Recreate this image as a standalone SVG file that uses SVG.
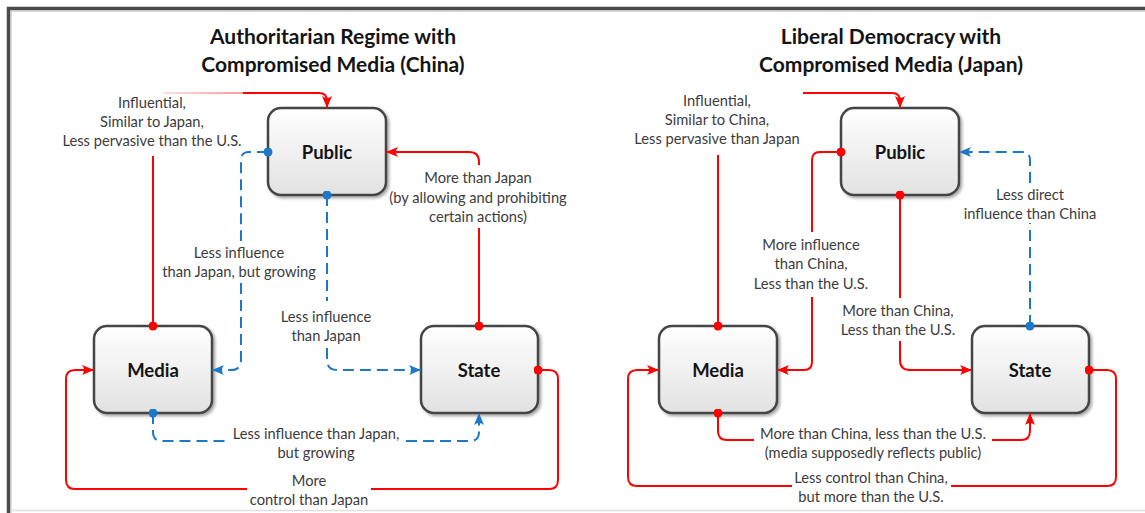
<svg xmlns="http://www.w3.org/2000/svg" width="1145" height="513" viewBox="0 0 1145 513">
<style>
.title{font-family:Lato,"Open Sans","Liberation Sans",sans-serif;font-weight:bold;font-size:21px;fill:#141414;text-anchor:middle}
.lbl{font-family:Lato,"Open Sans","Liberation Sans",sans-serif;font-size:14.7px;fill:#3c3c3c;text-anchor:middle;dominant-baseline:central}
.nlbl{font-family:Lato,"Open Sans","Liberation Sans",sans-serif;font-weight:bold;font-size:18.5px;fill:#141414;text-anchor:middle;dominant-baseline:central}
.box{fill:url(#gBox);stroke:#454545;stroke-width:2.5;filter:url(#shadow)}
.r{fill:none;stroke:#ff0000;stroke-width:2}
.b{fill:none;stroke:#1e78c8;stroke-width:2;stroke-dasharray:11 6}
.ra{marker-end:url(#arrR)}
.ba{marker-end:url(#arrB)}
.rd{marker-start:url(#dotR)}
.bd{marker-start:url(#dotB)}
</style>
<defs>
<linearGradient id="gBox" x1="0" y1="0" x2="0" y2="1">
<stop offset="0" stop-color="#ffffff"/>
<stop offset="1" stop-color="#e2e2e2"/>
</linearGradient>
<linearGradient id="gFade" gradientUnits="userSpaceOnUse" x1="163" y1="0" x2="243" y2="0">
<stop offset="0" stop-color="#ff0000" stop-opacity="0.12"/>
<stop offset="1" stop-color="#ff0000" stop-opacity="0.4"/>
</linearGradient>
<filter id="shadow" x="-10%" y="-10%" width="130%" height="130%">
<feDropShadow dx="2" dy="2" stdDeviation="1.5" flood-color="#000" flood-opacity="0.35"/>
</filter>
<marker id="arrR" viewBox="0 0 12 10" refX="12" refY="5" markerWidth="12" markerHeight="10" markerUnits="userSpaceOnUse" orient="auto">
<path d="M0,0 L12,5 L0,10 Q4,5 0,0 Z" fill="#ff0000"/>
</marker>
<marker id="arrB" viewBox="0 0 12 10" refX="12" refY="5" markerWidth="12" markerHeight="10" markerUnits="userSpaceOnUse" orient="auto">
<path d="M0,0 L12,5 L0,10 Q4,5 0,0 Z" fill="#1e78c8"/>
</marker>
<marker id="dotR" viewBox="0 0 10 10" refX="5" refY="5" markerWidth="9" markerHeight="9" markerUnits="userSpaceOnUse">
<circle cx="5" cy="5" r="5" fill="#ff0000"/>
</marker>
<marker id="dotB" viewBox="0 0 10 10" refX="5" refY="5" markerWidth="9" markerHeight="9" markerUnits="userSpaceOnUse">
<circle cx="5" cy="5" r="5" fill="#1e78c8"/>
</marker>
</defs>
<rect x="0" y="0" width="1145" height="513" fill="#ffffff"/>
<g id="frame">
<path d="M1145,8.5 H8.5 V513" fill="none" stroke="#4a4a4a" stroke-width="3.5"/>
<path d="M1145,11 H11 V513" fill="none" stroke="#b8b8b8" stroke-width="1"/>
<line x1="11" y1="510.5" x2="1145" y2="510.5" stroke="#e0e0e0" stroke-width="1.5"/>
</g>
<g id="titles">
<text class="title" x="333" y="44">Authoritarian Regime with</text>
<text class="title" x="333" y="72">Compromised Media (China)</text>
<text class="title" x="891" y="44">Liberal Democracy with</text>
<text class="title" x="891" y="72">Compromised Media (Japan)</text>
</g>
<g id="china-public">
<rect class="box" x="268" y="108" width="118" height="87" rx="13"/>
<text class="nlbl" x="327" y="152">Public</text>
</g>
<g id="china-media">
<rect class="box" x="94" y="326" width="118" height="87" rx="13"/>
<text class="nlbl" x="153" y="370">Media</text>
</g>
<g id="china-state">
<rect class="box" x="421" y="326" width="117" height="87" rx="13"/>
<text class="nlbl" x="479" y="370">State</text>
</g>
<g id="japan-public">
<rect class="box" x="841" y="108" width="118" height="87" rx="13"/>
<text class="nlbl" x="900" y="152">Public</text>
</g>
<g id="japan-media">
<rect class="box" x="659" y="326" width="118" height="87" rx="13"/>
<text class="nlbl" x="718" y="370">Media</text>
</g>
<g id="japan-state">
<rect class="box" x="972" y="326" width="117" height="87" rx="13"/>
<text class="nlbl" x="1030" y="370">State</text>
</g>
<g id="connectors">
<!-- Left: Media -> Public (red) -->
<path class="r rd" d="M153,326 V156"/>
<path d="M163,93 H243" fill="none" stroke="url(#gFade)" stroke-width="2"/>
<path class="r ra" d="M243,93 H319 Q327,93 327,101 V108"/>
<!-- Left: Public -> Media (blue) -->
<path class="b bd" d="M268,152 H249 Q241,152 241,160 V241"/>
<path class="b ba" d="M241,283 V360 Q241,370 231,370 H212"/>
<!-- Left: Public -> State (blue) -->
<path class="b bd" d="M327,195 V301"/>
<path class="b ba" d="M327,348 V360 Q327,370 337,370 H421"/>
<!-- Left: State -> Public (red) -->
<path class="r rd" d="M479,326 V228"/>
<path class="r ra" d="M479,165 V162 Q479,152 469,152 H386"/>
<!-- Left: Media -> State (blue) -->
<path class="b bd" d="M153,413 V432 Q153,441 162,441 H226"/>
<path class="b ba" d="M406,441 H470 Q479,441 479,432 V413"/>
<!-- Left: State -> Media (red) -->
<path class="r rd" d="M538,370 H549 Q558,370 558,379 V480 Q558,489 549,489 H371"/>
<path class="r ra" d="M247,489 H75 Q66,489 66,480 V379 Q66,370 75,370 H94"/>
<!-- Right: Media -> Public (red) -->
<path class="r rd" d="M718,326 V155"/>
<path class="r ra" d="M803,93 H892 Q900,93 900,101 V108"/>
<!-- Right: Public -> Media (red) -->
<path class="r rd" d="M841,152 H820 Q812,152 812,160 V232"/>
<path class="r ra" d="M812,297 V362 Q812,370 804,370 H777"/>
<!-- Right: Public -> State (red) -->
<path class="r rd" d="M900,195 V298"/>
<path class="r ra" d="M900,341 V360 Q900,370 910,370 H972"/>
<!-- Right: State -> Public (blue) -->
<path class="b bd" d="M1030,326 V223"/>
<path class="b ba" d="M1030,183 V160 Q1030,152 1022,152 H959"/>
<!-- Right: Media -> State (red) -->
<path class="r rd" d="M718,413 V431 Q718,440 727,440 H754"/>
<path class="r ra" d="M992,440 H1021 Q1030,440 1030,431 V413"/>
<!-- Right: State -> Media (red) -->
<path class="r rd" d="M1089,370 H1107 Q1116,370 1116,379 V477 Q1116,486 1107,486 H951"/>
<path class="r ra" d="M792,486 H637 Q628,486 628,477 V379 Q628,370 637,370 H659"/>
</g>
<g id="labels">
<text class="lbl" x="152" y="102">Influential,</text>
<text class="lbl" x="152" y="121">Similar to Japan,</text>
<text class="lbl" x="152" y="140">Less pervasive than the U.S.</text>
<text class="lbl" x="239" y="252">Less influence</text>
<text class="lbl" x="239" y="271">than Japan, but growing</text>
<text class="lbl" x="326" y="316">Less influence</text>
<text class="lbl" x="326" y="335">than Japan</text>
<text class="lbl" x="478" y="177">More than Japan</text>
<text class="lbl" x="478" y="197">(by allowing and prohibiting</text>
<text class="lbl" x="478" y="216">certain actions)</text>
<text class="lbl" x="316" y="433">Less influence than Japan,</text>
<text class="lbl" x="316" y="452">but growing</text>
<text class="lbl" x="309" y="480">More</text>
<text class="lbl" x="309" y="499">control than Japan</text>
<text class="lbl" x="717" y="100">Influential,</text>
<text class="lbl" x="717" y="119">Similar to China,</text>
<text class="lbl" x="717" y="138">Less pervasive than Japan</text>
<text class="lbl" x="811" y="244">More influence</text>
<text class="lbl" x="811" y="263">than China,</text>
<text class="lbl" x="811" y="283">Less than the U.S.</text>
<text class="lbl" x="898" y="310">More than China,</text>
<text class="lbl" x="898" y="329">Less than the U.S.</text>
<text class="lbl" x="1030" y="194">Less direct</text>
<text class="lbl" x="1030" y="213">influence than China</text>
<text class="lbl" x="873" y="433">More than China, less than the U.S.</text>
<text class="lbl" x="873" y="452">(media supposedly reflects public)</text>
<text class="lbl" x="871" y="477">Less control than China,</text>
<text class="lbl" x="871" y="496">but more than the U.S.</text>
</g>
</svg>
